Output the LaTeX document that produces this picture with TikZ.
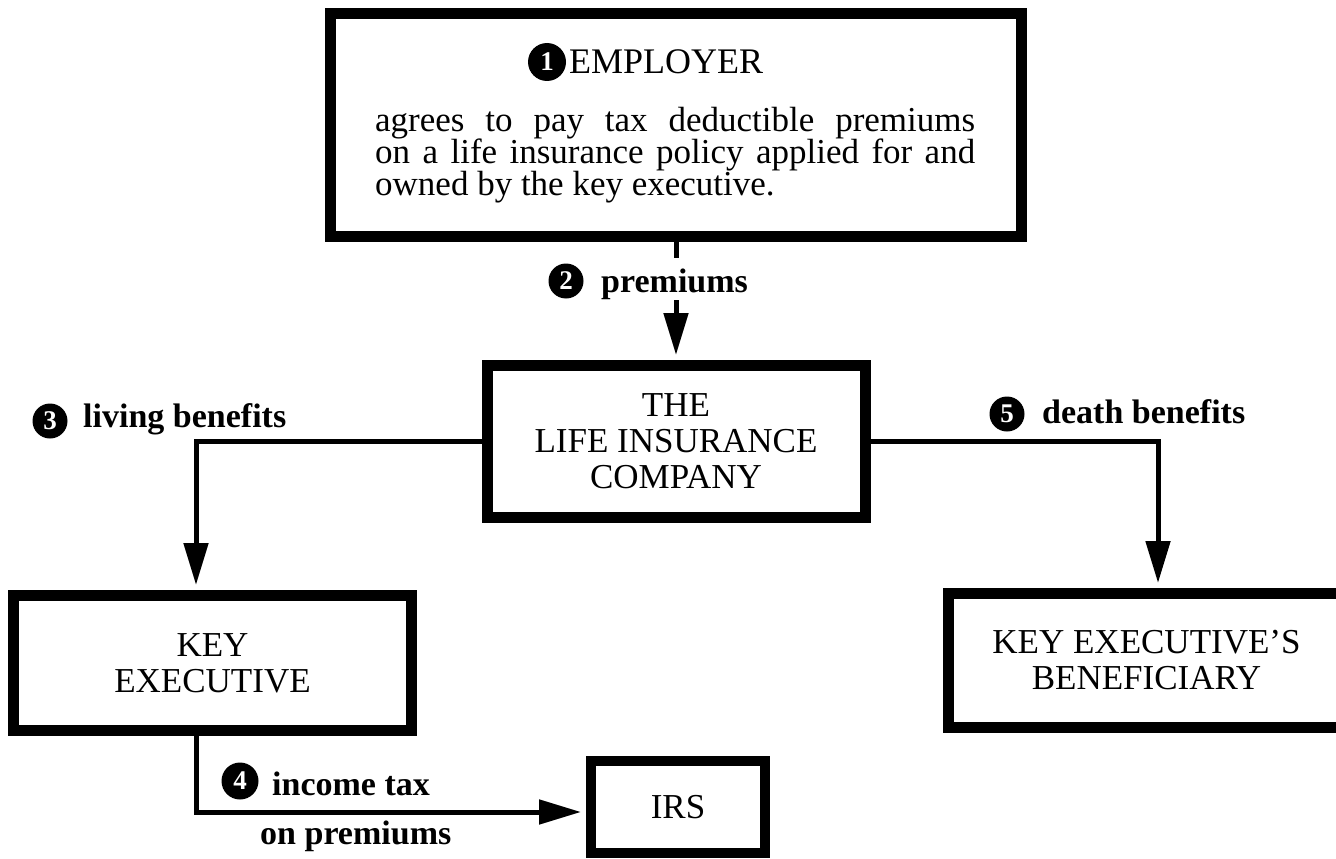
\documentclass[tikz,border=0pt]{standalone}
\usepackage{fontspec}
\setmainfont{Liberation Serif}
\usetikzlibrary{arrows.meta}
\begin{document}
\begin{tikzpicture}[x=1pt,y=-1pt,
  box/.style={draw, line width=11pt, inner sep=0pt, align=center,
    font=\fontsize{35}{36}\selectfont},
  conn/.style={line width=5pt},
  arr/.style={conn, -{Triangle[length=42pt,width=24pt]}, shorten >=5pt},
  num/.style={circle, fill=black, text=white, inner sep=0pt, minimum size=35pt,
    font=\bfseries\fontsize{27}{27}\selectfont},
  lbl/.style={anchor=base west, inner sep=0pt, font=\bfseries\fontsize{34}{34}\selectfont},
  body/.style={anchor=base west, inner sep=0pt, font=\fontsize{35}{35}\selectfont}]
\useasboundingbox (0,0) rectangle (1336,859);

% boxes
\node[box, minimum width=691pt, minimum height=223pt] (emp) at (676,125) {};
\node[box, minimum width=378pt, minimum height=152pt] (life) at (676,441.5)
  {THE\\LIFE INSURANCE\\COMPANY};
\node[box, minimum width=398pt, minimum height=135pt] (kex) at (212.5,663)
  {KEY\\EXECUTIVE};
\node[box, minimum width=396pt, minimum height=134pt] (ben) at (1146.5,660.5)
  {KEY EXECUTIVE’S\\BENEFICIARY};
\node[box, line width=10pt, minimum width=174pt, minimum height=92pt] (irs) at (678,807)
  {IRS};

% employer text
\node[num, minimum size=38pt] (n1) at (547,62) {1};
\node[anchor=base west, inner sep=0pt, font=\fontsize{36}{36}\selectfont] (empt) at (569,74) {EMPLOYER};
\node[body] (t1) at (375,131) {\makebox[600pt][s]{agrees to pay tax deductible premiums}};
\node[body] (t2) at (375,163) {\makebox[600pt][s]{on a life insurance policy applied for and}};
\node[body] (t3) at (375,195) {owned by the key executive.};

% premiums
\coordinate (stub) at (676,258);
\coordinate (p2) at (676,300);
\draw[conn] (emp.south) -- (stub);
\draw[arr] (p2) -- (life.north);
\node[num] (n2) at (566,281) {2};
\node[lbl] (l2) at (601,292) {premiums};

% living benefits
\draw[arr] (life.west) -| ([xshift=-16.5pt]kex.north);
\node[num] (n3) at (50,421) {3};
\node[lbl] (l3) at (83,427) {living benefits};

% death benefits
\draw[arr] (life.east) -| ([xshift=11.5pt]ben.north);
\node[num] (n5) at (1007,414) {5};
\node[lbl] (l5) at (1042,423) {death benefits};

% income tax
\draw[arr] ([xshift=-16.5pt]kex.south) |- ([yshift=-5pt]irs.west);
\node[num, minimum size=37pt] (n4) at (240,781) {4};
\node[lbl] (l4) at (272,795) {income tax};
\node[lbl] (l4b) at (260,844) {on premiums};
\end{tikzpicture}
\end{document}
